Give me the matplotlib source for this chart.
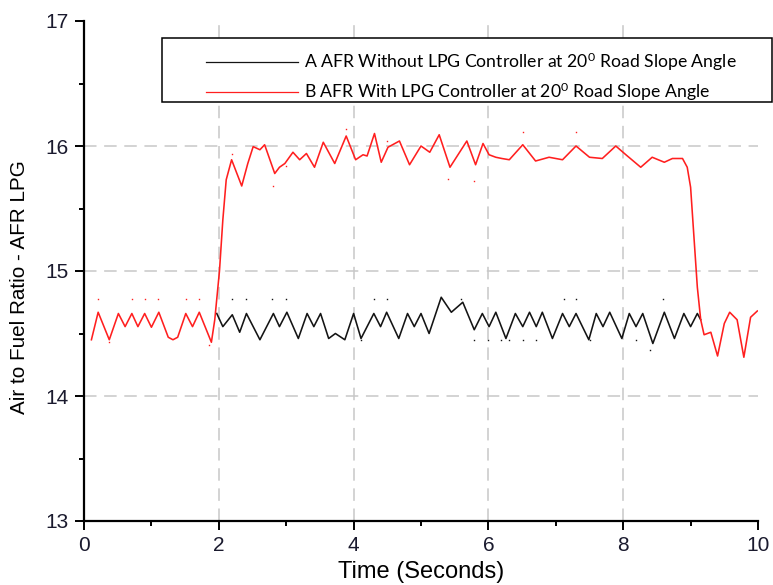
import matplotlib
matplotlib.use("Agg")
import matplotlib.pyplot as plt
from matplotlib.patches import Rectangle
from matplotlib.lines import Line2D

plt.rcParams['font.family'] = ['Liberation Sans', 'DejaVu Sans']
plt.rcParams['mathtext.default'] = 'regular'
plt.rcParams['lines.scale_dashes'] = False

# ---- data ----
time_b = [0.11, 0.21, 0.375, 0.51, 0.61, 0.71, 0.80, 0.90, 1.00, 1.11, 1.25, 1.32, 1.39,
          1.51, 1.61, 1.71, 1.89, 1.94, 2.01, 2.06, 2.11, 2.19, 2.34, 2.43, 2.51, 2.61,
          2.68, 2.83, 2.90, 2.98, 3.10, 3.20, 3.30, 3.42, 3.55, 3.72, 3.89, 4.03, 4.14,
          4.20, 4.31, 4.41, 4.51, 4.68, 4.83, 5.00, 5.13, 5.27, 5.43, 5.68, 5.81, 5.92,
          6.01, 6.11, 6.20, 6.31, 6.51, 6.70, 6.90, 7.10, 7.30, 7.50, 7.69, 7.89, 8.04,
          8.26, 8.43, 8.61, 8.73, 8.88, 8.95, 9.00, 9.05, 9.10, 9.15, 9.20, 9.30, 9.40,
          9.50, 9.58, 9.69, 9.79, 9.89, 9.99]
afr_b = [14.45, 14.67, 14.45, 14.66, 14.555, 14.66, 14.555, 14.66, 14.55, 14.67, 14.47,
         14.45, 14.47, 14.66, 14.555, 14.67, 14.43, 14.61, 15.00, 15.41, 15.73, 15.89,
         15.68, 15.86, 15.995, 15.97, 16.01, 15.78, 15.83, 15.86, 15.95, 15.89, 15.94,
         15.83, 16.03, 15.86, 16.08, 15.89, 15.93, 15.92, 16.10, 15.87, 15.99, 16.04,
         15.85, 16.00, 15.95, 16.09, 15.83, 16.04, 15.85, 16.02, 15.93, 15.91, 15.90,
         15.89, 16.01, 15.88, 15.91, 15.89, 16.00, 15.91, 15.90, 16.00, 15.93, 15.83,
         15.91, 15.87, 15.90, 15.90, 15.83, 15.67, 15.27, 14.87, 14.61, 14.49, 14.51,
         14.32, 14.58, 14.67, 14.61, 14.31, 14.63, 14.68]

time_a = [1.97, 2.06, 2.20, 2.31, 2.41, 2.61, 2.81, 2.90, 3.01, 3.18, 3.31, 3.41, 3.51,
          3.63, 3.73, 3.87, 4.00, 4.11, 4.30, 4.40, 4.49, 4.67, 4.80, 4.90, 5.00, 5.12,
          5.30, 5.45, 5.62, 5.79, 5.91, 6.01, 6.11, 6.26, 6.40, 6.51, 6.61, 6.71, 6.80,
          6.95, 7.10, 7.20, 7.30, 7.49, 7.60, 7.70, 7.80, 7.98, 8.09, 8.19, 8.29, 8.44,
          8.61, 8.76, 8.90, 9.00, 9.10, 9.15]
afr_a = [14.66, 14.555, 14.65, 14.51, 14.66, 14.45, 14.66, 14.555, 14.67, 14.46, 14.66,
         14.555, 14.66, 14.46, 14.50, 14.45, 14.66, 14.46, 14.66, 14.555, 14.67, 14.46,
         14.66, 14.555, 14.66, 14.50, 14.79, 14.67, 14.75, 14.53, 14.66, 14.555, 14.67,
         14.46, 14.66, 14.555, 14.67, 14.555, 14.67, 14.46, 14.66, 14.555, 14.66, 14.45,
         14.66, 14.555, 14.67, 14.46, 14.66, 14.555, 14.66, 14.42, 14.67, 14.46, 14.66,
         14.555, 14.66, 14.61]

# stray sample dots
dots_b_x = [0.21, 0.71, 0.90, 1.10, 1.51, 1.71, 0.375, 1.86, 2.20, 2.80, 3.00, 3.89,
            4.49, 5.40, 5.79, 6.51, 7.30]
dots_b_y = [14.78, 14.78, 14.78, 14.78, 14.78, 14.78, 14.43, 14.41, 15.94, 15.68, 15.84,
            16.14, 16.04, 15.74, 15.72, 16.11, 16.11]
dots_a_x = [2.20, 2.40, 2.79, 3.00, 4.30, 4.49, 5.59, 7.12, 7.30, 8.59, 4.11, 5.79, 6.00,
            6.19, 6.30, 6.51, 6.71, 7.50, 8.19, 8.40]
dots_a_y = [14.78, 14.78, 14.78, 14.78, 14.78, 14.78, 14.78, 14.78, 14.78, 14.78, 14.45,
            14.45, 14.45, 14.45, 14.45, 14.45, 14.45, 14.45, 14.45, 14.37]

label_a = "A AFR Without LPG Controller at 20$^{0}$ Road Slope Angle"
label_b = "B AFR With LPG Controller at 20$^{0}$ Road Slope Angle"
x_ticks = [0, 2, 4, 6, 8, 10]
y_ticks = [13, 14, 15, 16, 17]

# ---- figure ----
W, H = 773, 585
fig = plt.figure(figsize=(W / 100, H / 100), dpi=100)
L, R, T, B = 84, 758, 21, 521
ax = fig.add_axes([L / W, 1 - B / H, (R - L) / W, (B - T) / H])

red = '#ff1f1f'
blk = '#141414'
ax.plot(time_a, afr_a, color=blk, lw=1.15, zorder=3, solid_joinstyle='round')
ax.plot(time_b, afr_b, color=red, lw=1.15, zorder=4, solid_joinstyle='round')
ax.plot(dots_b_x, dots_b_y, ls='none', marker='s', ms=1.0, mew=0, color=red, zorder=4)
ax.plot(dots_a_x, dots_a_y, ls='none', marker='s', ms=1.0, mew=0, color=blk, zorder=3)

ax.set_xlim(0, 10)
ax.set_ylim(13, 17)
ax.set_xticks(x_ticks)
ax.set_yticks(y_ticks)
ax.set_xticks([1, 3, 5, 7, 9], minor=True)
ax.set_yticks([13.5, 14.5, 15.5, 16.5], minor=True)

for s in ['top', 'right']:
    ax.spines[s].set_visible(False)
for s in ['left', 'bottom']:
    ax.spines[s].set_linewidth(1.6)
    ax.spines[s].set_color('black')

ax.tick_params(which='major', direction='out', length=6.5, width=1.4, pad=4.5,
               labelsize=15, labelcolor='#1a1a2e')
ax.tick_params(which='minor', direction='out', length=3.6, width=1.4)

ax.grid(True, which='major', color='#c8c8c8', lw=1.1, ls=(0, (9, 5.5)))
gx = ax.get_xgridlines()
gy = ax.get_ygridlines()
for g in (gx[0], gx[-1], gy[0], gy[-1]):
    g.set_visible(False)
ax.set_axisbelow(True)

ax.set_xlabel('Time (Seconds)', fontsize=17, labelpad=4)
ax.set_ylabel('Air to Fuel Ratio - AFR LPG', fontsize=14.9)
ax.yaxis.set_label_coords((29 - L) / (R - L), (B - 287) / (B - T))

# legend box
fig.add_artist(Rectangle((162 / W, 1 - 102 / H), (772 - 162) / W, (102 - 38) / H,
                         transform=fig.transFigure, facecolor='white',
                         edgecolor='black', lw=1.1, zorder=2))
handles = [Line2D([], [], color=blk, lw=0.9), Line2D([], [], color=red, lw=0.9)]
fig.legend(handles, [label_a, label_b], loc='upper left',
           bbox_to_anchor=(206 / W, 1 - 51 / H), bbox_transform=fig.transFigure,
           frameon=False, borderpad=0, borderaxespad=0, handlelength=5.2,
           handletextpad=0.35, labelspacing=0.42,
           prop={'family': ['Lato', 'DejaVu Sans'], 'size': 12.7})

fig.savefig('out.png', dpi=100)
